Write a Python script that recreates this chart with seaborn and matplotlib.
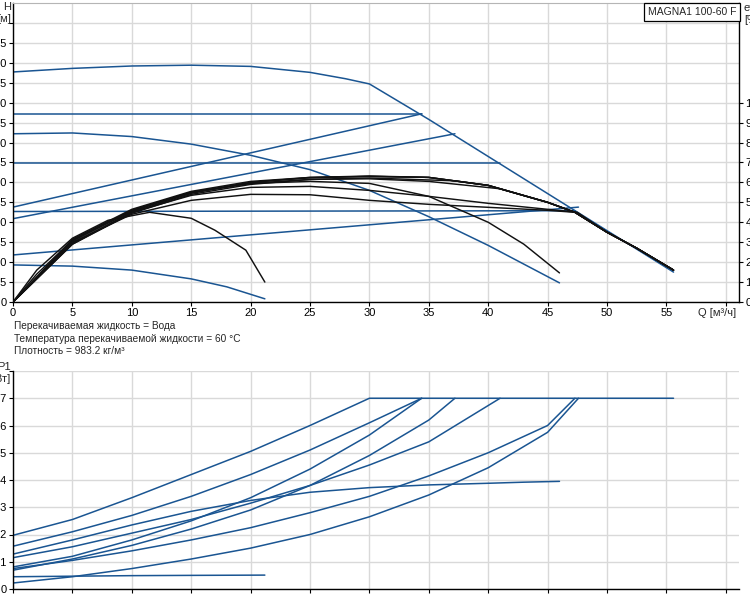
import matplotlib
matplotlib.use("Agg")
import matplotlib.pyplot as plt
import seaborn as sns
import numpy as np

sns.set_theme(style="white")
plt.rcParams['font.family'] = ['Liberation Sans', 'DejaVu Sans']

BLUE = '#1a5592'
BLACK = '#111111'
GRID = '#d9d9d9'

# ---- напор H [м] ----
q_max = [0, 5, 10, 15, 20, 25, 28, 30, 35, 40, 45, 50, 55.6]
h_max = [5.77, 5.86, 5.92, 5.94, 5.91, 5.76, 5.6, 5.47, 4.58, 3.65, 2.72, 1.79, 0.75]
q_cp3, h_cp3 = [0, 34.4], [4.72, 4.72]
q_pp3, h_pp3 = [0, 34.4], [2.38, 4.72]
q_cp2, h_cp2 = [0, 41.0], [3.48, 3.48]
q_pp2, h_pp2 = [0, 37.2], [2.09, 4.22]
q_cp1, h_cp1 = [0, 47.3], [2.27, 2.29]
q_pp1, h_pp1 = [0, 47.6], [1.18, 2.38]
q_c = [0, 5, 10, 15, 20, 25, 30, 35, 40, 46]
h_c = [4.22, 4.24, 4.15, 3.96, 3.68, 3.32, 2.8, 2.14, 1.42, 0.48]
q_min = [0, 5, 10, 15, 18, 21.2]
h_min = [0.93, 0.9, 0.8, 0.58, 0.38, 0.08]

# ---- КПД eta [%] ----
qe_max = [0, 2, 5, 10, 15, 20, 25, 30, 35, 40, 45, 47.3, 50, 52.5, 55.6]
e_max = [0, 14, 31, 46, 55, 60, 62.3, 63, 62.5, 58.5, 50, 45, 35, 27, 16]
qe_cp3 = [0, 5, 10, 15, 20, 25, 30, 34.4]
e_cp3 = [0, 31.5, 46.5, 55.5, 60.5, 62.5, 63, 62.6]
qe_pp3 = [0, 5, 10, 15, 20, 25, 30, 34.4]
e_pp3 = [0, 29.5, 45, 54.5, 60, 62.5, 63.2, 62.6]
qe_cp2 = [0, 5, 10, 15, 20, 25, 30, 35, 41]
e_cp2 = [0, 30.5, 45.5, 55, 59.5, 61.5, 61.8, 60.5, 56.8]
qe_pp2 = [0, 5, 10, 15, 20, 25, 30, 37.2]
e_pp2 = [0, 29, 44.5, 54, 59, 61.5, 62.2, 60.8]
qe_cp1 = [0, 5, 10, 15, 20, 25, 30, 35, 40, 45, 47.3]
e_cp1 = [0, 30, 44, 51, 54, 53.8, 51, 49, 47.5, 46, 45]
qe_pp1 = [0, 5, 10, 15, 20, 25, 30, 35, 40, 45, 47.5]
e_pp1 = [0, 29, 45, 53.5, 57.5, 58, 56, 53, 49.5, 46.5, 45]
qe_c = [0, 5, 10, 15, 20, 25, 30, 35, 40, 43, 46]
e_c = [0, 31, 46, 55, 59.5, 60.5, 59.5, 53, 40, 29, 14.6]
qe_min = [0, 2, 5, 8, 11.5, 15, 17, 19.6, 21.2]
e_min = [0, 16, 32, 41, 45, 42, 36, 26, 10]

# ---- мощность P1 [кВт] ----
qp_max, p_max = [0, 5, 10, 15, 20, 25, 30, 55.6], [0.197, 0.255, 0.335, 0.42, 0.505, 0.60, 0.70, 0.70]
qp_cp3, p_cp3 = [0, 5, 10, 15, 20, 25, 30, 34.4], [0.157, 0.21, 0.27, 0.34, 0.42, 0.51, 0.61, 0.70]
qp_pp3, p_pp3 = [0, 5, 10, 15, 20, 25, 30, 34.4], [0.081, 0.12, 0.18, 0.25, 0.335, 0.44, 0.565, 0.70]
qp_pp2, p_pp2 = [0, 5, 10, 15, 20, 25, 30, 35, 37.2], [0.069, 0.11, 0.16, 0.22, 0.29, 0.38, 0.49, 0.62, 0.70]
qp_cp2, p_cp2 = [0, 5, 10, 15, 20, 25, 30, 35, 41], [0.115, 0.155, 0.205, 0.255, 0.315, 0.38, 0.455, 0.54, 0.70]
qp_cp1 = [0, 5, 10, 15, 20, 25, 30, 35, 40, 45, 47.3]
p_cp1 = [0.075, 0.105, 0.14, 0.18, 0.225, 0.28, 0.34, 0.415, 0.5, 0.6, 0.70]
qp_pp1 = [0, 5, 10, 15, 20, 25, 30, 35, 40, 45, 47.6]
p_pp1 = [0.022, 0.045, 0.075, 0.11, 0.15, 0.2, 0.265, 0.345, 0.445, 0.575, 0.70]
qp_c = [0, 5, 10, 15, 20, 25, 30, 35, 40, 43, 46]
p_c = [0.128, 0.18, 0.235, 0.285, 0.325, 0.355, 0.372, 0.382, 0.388, 0.392, 0.395]
qp_min, p_min = [0, 5, 10, 15, 21.2], [0.045, 0.047, 0.049, 0.05, 0.051]

x_ticks = list(range(0, 61, 5))
x_labels = [str(v) for v in x_ticks[:-1]] + ['']
h_ticks = [i * 0.5 for i in range(15)]
h_labels = ['0'] + ['%.1f' % v for v in h_ticks[1:14]] + ['']
eta_ticks = list(range(0, 101, 10))
p_ticks = [i / 10 for i in range(9)]
p_labels = ['0'] + ['%.1f' % v for v in p_ticks[1:8]] + ['']

info = ['Перекачиваемая жидкость = Вода',
        'Температура перекачиваемой жидкости = 60 °C',
        'Плотность = 983.2 кг/м³']

W, H = 750, 600
fig = plt.figure(figsize=(7.5, 6), dpi=100)
ax = fig.add_axes([13 / W, 1 - 302 / H, 726 / W, 299 / H])
ax2 = ax.twinx()
ax3 = fig.add_axes([13 / W, 1 - 589 / H, 726 / W, 218 / H])


def line(a, x, y, c, lw=1.1):
    sns.lineplot(x=x, y=y, ax=a, color=c, lw=lw, sort=False, estimator=None, legend=False)


def with_tail(q, e):
    qq = list(q) + [v for v in qe_max if v > q[-1]]
    ee = list(e) + [e_max[i] for i, v in enumerate(qe_max) if v > q[-1]]
    return qq, ee


for q, h in [(q_max, h_max), (q_cp3, h_cp3), (q_pp3, h_pp3), (q_cp2, h_cp2), (q_pp2, h_pp2),
             (q_cp1, h_cp1), (q_pp1, h_pp1), (q_c, h_c), (q_min, h_min)]:
    line(ax, q, h, BLUE)

for q, e in [(qe_cp3, e_cp3), (qe_pp3, e_pp3), (qe_cp2, e_cp2), (qe_pp2, e_pp2),
             (qe_cp1, e_cp1), (qe_pp1, e_pp1)]:
    qq, ee = with_tail(q, e)
    line(ax2, qq, ee, BLACK, 1.05)
for q, e in [(qe_max, e_max), (qe_c, e_c), (qe_min, e_min)]:
    line(ax2, q, e, BLACK, 1.05)

for q, p in [(qp_max, p_max), (qp_cp3, p_cp3), (qp_pp3, p_pp3), (qp_pp2, p_pp2), (qp_cp2, p_cp2),
             (qp_cp1, p_cp1), (qp_pp1, p_pp1), (qp_c, p_c), (qp_min, p_min)]:
    line(ax3, q, p, BLUE)

xmax = 726 / 11.88
for a in (ax, ax2, ax3):
    a.set_xlim(0, xmax)
    a.set_xlabel('')
    a.set_ylabel('')

ax.set_ylim(0, 7.5)
ax2.set_ylim(0, 150)
ax3.set_ylim(0, 0.8)

ax.set_xticks(x_ticks)
ax.set_xticklabels(x_labels)
ax.set_yticks(h_ticks)
ax.set_yticklabels(h_labels)
ax2.set_yticks(eta_ticks)
ax2.set_yticklabels([str(v) for v in eta_ticks])
ax3.set_xticks(x_ticks)
ax3.set_xticklabels([])
ax3.set_yticks(p_ticks)
ax3.set_yticklabels(p_labels)

for a in (ax, ax3):
    a.grid(True, color=GRID, lw=1.0)
    a.set_axisbelow(True)
    a.tick_params(axis='both', which='both', direction='out', length=3, width=0.8,
                  labelsize=8, colors='black', pad=1.5, left=True, bottom=True)
ax2.tick_params(axis='y', direction='out', length=3, width=0.8, labelsize=8,
                colors='black', pad=1.5, right=True)
ax2.grid(False)

for s in ('left', 'bottom'):
    ax.spines[s].set_color('black')
    ax.spines[s].set_linewidth(1.0)
    ax3.spines[s].set_color('black')
    ax3.spines[s].set_linewidth(1.0)
ax.spines['top'].set_color('#b5b5b5')
ax.spines['top'].set_linewidth(0.8)
ax.spines['right'].set_visible(False)
for s in ('left', 'bottom', 'top'):
    ax2.spines[s].set_visible(False)
ax2.spines['right'].set_color('black')
ax2.spines['right'].set_linewidth(1.0)
ax3.spines['top'].set_visible(False)
ax3.spines['right'].set_visible(False)

fig.text(11 / W, 1 - 13.5 / H, 'H\n[м]', ha='right', va='center', fontsize=8, linespacing=1.25)
fig.text(744 / W, 1 - 14 / H, 'eta\n[%]', ha='left', va='center', fontsize=8, linespacing=1.25)
fig.text(11 / W, 1 - 373 / H, 'P1\n[кВт]', ha='right', va='center', fontsize=8, linespacing=1.25)
fig.text(736 / W, 1 - 313 / H, 'Q [м³/ч]', ha='right', va='center', fontsize=8)
for i, s in enumerate(info):
    fig.text(14 / W, 1 - (326 + 12.5 * i) / H, s, ha='left', va='center', fontsize=7.3)

fig.text(692 / W, 1 - 12 / H, 'MAGNA1 100-60 F', ha='center', va='center', fontsize=7.5,
         bbox=dict(boxstyle='square,pad=0.35', fc='white', ec='black', lw=0.9))

fig.savefig('out.png', dpi=100)
